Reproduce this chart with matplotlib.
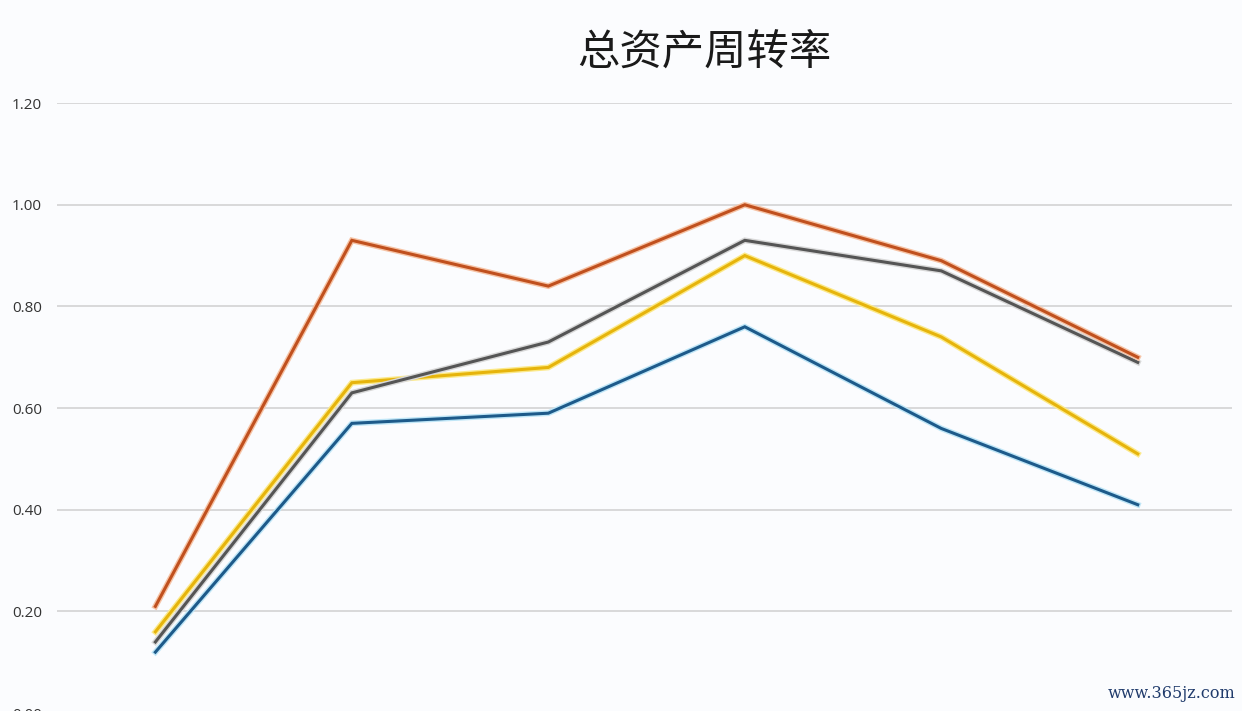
import matplotlib.pyplot as plt
import matplotlib.patheffects as pe

plt.rcParams['font.family'] = ['Noto Sans CJK SC', 'DejaVu Sans']

# data
periods = [0, 1, 2, 3, 4, 5]
blue_vals = [0.12, 0.57, 0.59, 0.76, 0.56, 0.41]
yellow_vals = [0.16, 0.65, 0.68, 0.90, 0.74, 0.51]
gray_vals = [0.14, 0.63, 0.73, 0.93, 0.87, 0.69]
orange_vals = [0.21, 0.93, 0.84, 1.00, 0.89, 0.70]
y_ticks = [0.0, 0.2, 0.4, 0.6, 0.8, 1.0, 1.2]

series = [
    (blue_vals, '#1d5a8a', '#bfe6f7'),
    (yellow_vals, '#e6b40c', '#fbe98a'),
    (gray_vals, '#555555', '#d8d8d8'),
    (orange_vals, '#c0501e', '#f6c3a5'),
]

bg = '#fbfcfe'
fig = plt.figure(figsize=(12.42, 7.11), dpi=100, facecolor=bg)
ax = fig.add_axes([0.046, -0.003, 0.946, 0.858])
ax.set_facecolor(bg)

for vals, color, glow in series:
    ax.plot(periods, vals, color=color, linewidth=2.2, solid_joinstyle='miter',
            path_effects=[pe.Stroke(linewidth=4.2, foreground=glow), pe.Normal()],
            zorder=3)

ax.set_xlim(-0.5, 5.48)
ax.set_ylim(0, 1.2)
ax.set_yticks(y_ticks)
ax.set_yticklabels([f'{v:.2f}' for v in y_ticks], family=['Open Sans', 'DejaVu Sans'],
                   fontsize=11, color='#333333')
ax.set_xticks([])
ax.tick_params(axis='y', length=0, pad=11)
ax.grid(axis='y', color='#d9d9d9', linewidth=1.4)
ax.set_axisbelow(True)
for s in ax.spines.values():
    s.set_visible(False)

fig.text(0.567, 0.926, '总资产周转率', ha='center', va='center', fontsize=30.5, color='#1a1a1a')
fig.text(0.995, 0.025, 'www.365jz.com', ha='right', va='center', fontsize=11.5,
         family=['DejaVu Serif'], color='#1f3a6b')

fig.savefig('out.png', dpi=100, facecolor=bg)
